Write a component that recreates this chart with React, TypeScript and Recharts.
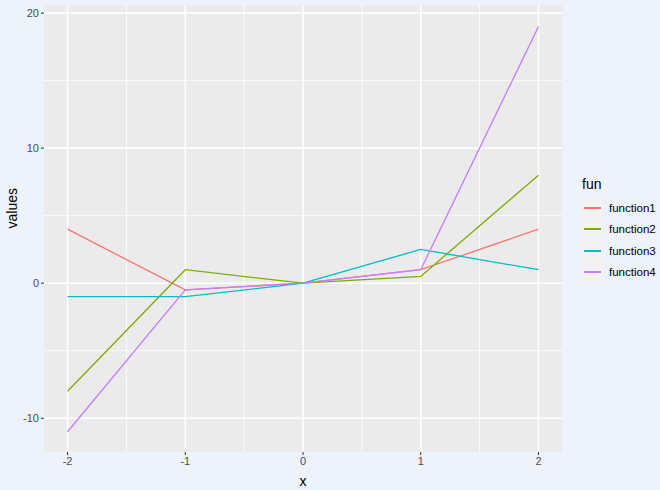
import React from "react";
import {
  LineChart,
  Line,
  XAxis,
  YAxis,
  CartesianGrid,
} from "recharts";

const xs = [-2, -1, 0, 1, 2];
const function1 = [4, -0.5, 0, 1, 4];
const function2 = [-8, 1, 0, 0.5, 8];
const function3 = [-1, -1, 0, 2.5, 1];
const function4 = [-11, -0.5, 0, 1, 19];

const seriesNames = ["function1", "function2", "function3", "function4"];
const colors = ["#F8766D", "#7CAE00", "#00BFC4", "#C77CFF"];

const xTicks = [-2, -1, 0, 1, 2];
const yTicks = [-10, 0, 10, 20];
const xMinor = [-1.5, -0.5, 0.5, 1.5];
const yMinor = [-5, 5, 15];

const data = xs.map((x, i) => ({
  x,
  function1: function1[i],
  function2: function2[i],
  function3: function3[i],
  function4: function4[i],
}));

const font = "Arial, 'Liberation Sans', sans-serif";

// ggplot-style legend, drawn next to the panel
function LegendBox() {
  return (
    <div
      style={{
        position: "absolute",
        left: 581,
        top: 171,
        fontFamily: font,
        color: "#000",
      }}
    >
      <div style={{ fontSize: 14, height: 26, lineHeight: "26px", marginLeft: 1 }}>fun</div>
      {seriesNames.map((n, i) => (
        <div key={n} style={{ display: "flex", alignItems: "center", height: 21.5 }}>
          <div
            style={{
              width: 22,
              height: 21.5,
              background: "#F2F2F2",
              display: "flex",
              alignItems: "center",
              justifyContent: "center",
            }}
          >
            <div style={{ width: 17, height: 2, background: colors[i] }} />
          </div>
          <span style={{ fontSize: 11.5, marginLeft: 6 }}>{n}</span>
        </div>
      ))}
    </div>
  );
}

export default function App() {
  return (
    <div
      style={{
        position: "absolute",
        left: 0,
        top: 0,
        width: 660,
        height: 490,
        background: "#EEF2FA",
      }}
    >
      <LineChart
        width={660}
        height={490}
        data={data}
        margin={{ top: 5, right: 98, bottom: 0, left: 0 }}
      >
        <CartesianGrid
          fill="#EBEBEB"
          fillOpacity={1}
          stroke="#FFFFFF"
          strokeWidth={0.8}
          horizontalValues={yMinor}
          verticalValues={xMinor}
        />
        <CartesianGrid
          stroke="#FFFFFF"
          strokeWidth={1.6}
          horizontalValues={yTicks}
          verticalValues={xTicks}
        />
        <XAxis
          dataKey="x"
          type="number"
          domain={[-2.2, 2.2]}
          ticks={xTicks}
          allowDataOverflow
          height={38}
          axisLine={false}
          tickLine={{ stroke: "#333333" }}
          tickSize={3}
          tickMargin={2}
          tick={{ fill: "#4D4D4D", fontSize: 11, fontFamily: font }}
          label={{
            value: "x",
            position: "insideBottom",
            offset: 4,
            fill: "#000",
            fontSize: 14,
            fontFamily: font,
          }}
        />
        <YAxis
          type="number"
          domain={[-12.5, 20.6]}
          ticks={yTicks}
          allowDataOverflow
          width={44}
          axisLine={false}
          tickLine={{ stroke: "#333333" }}
          tickSize={3}
          tickMargin={2}
          tick={{ fill: "#4D4D4D", fontSize: 11, fontFamily: font }}
          label={{
            value: "values",
            angle: -90,
            position: "insideLeft",
            offset: 12,
            fill: "#000",
            fontSize: 14,
            fontFamily: font,
          }}
        />
        {seriesNames.map((n, i) => (
          <Line
            key={n}
            type="linear"
            dataKey={n}
            stroke={colors[i]}
            strokeWidth={1.3}
            dot={false}
            activeDot={false}
            isAnimationActive={false}
          />
        ))}
      </LineChart>
      <LegendBox />
    </div>
  );
}
